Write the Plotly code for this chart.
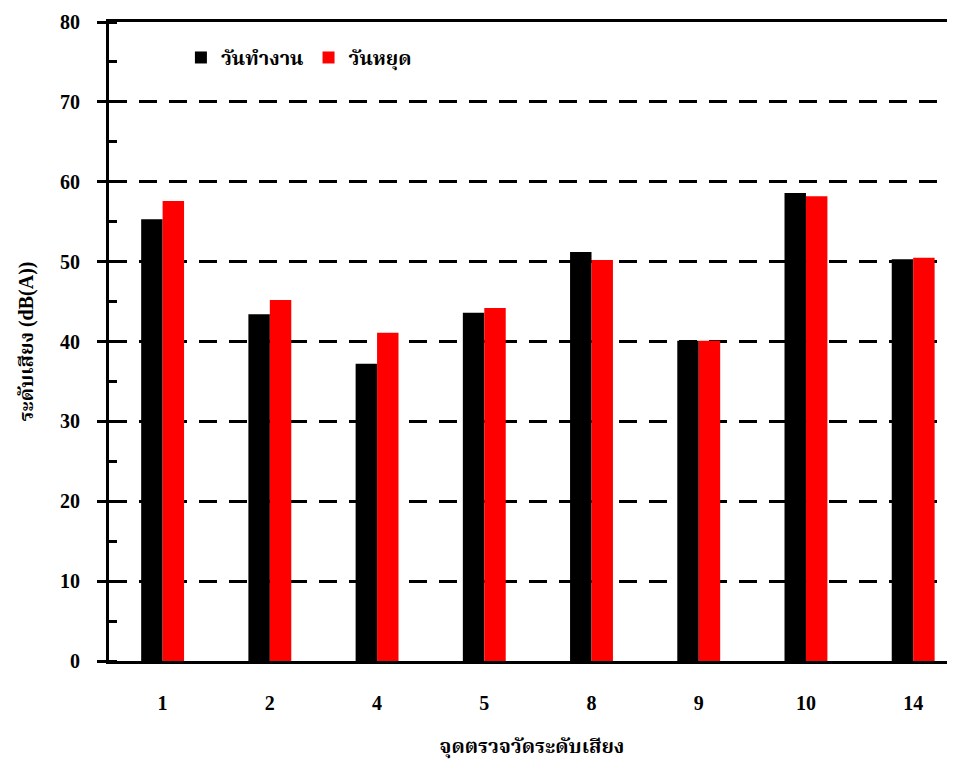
import plotly.graph_objects as go

categories = ["1", "2", "4", "5", "8", "9", "10", "14"]
weekday = [55.3, 43.4, 37.2, 43.6, 51.2, 40.1, 58.6, 50.3]
holiday = [57.6, 45.2, 41.1, 44.2, 50.2, 40.1, 58.2, 50.5]
y_ticks = [0, 10, 20, 30, 40, 50, 60, 70, 80]

FONT = "Liberation Serif, Times New Roman, Noto Serif Thai, Noto Sans Thai, serif"

fig = go.Figure()
fig.add_trace(go.Bar(x=categories, y=weekday, name="วันทำงาน",
                     marker=dict(color="#000000", line=dict(width=0))))
fig.add_trace(go.Bar(x=categories, y=holiday, name="วันหยุด",
                     marker=dict(color="#ff0000", line=dict(width=0))))

fig.update_layout(
    width=947, height=752,
    margin=dict(l=101, r=0, t=14, b=99),
    paper_bgcolor="white", plot_bgcolor="white",
    barmode="group", bargap=0.6, bargroupgap=0,
    font=dict(family=FONT, size=20, color="black"),
    showlegend=True,
    legend=dict(orientation="h", x=0.085, y=0.975, xanchor="left", yanchor="top",
                bgcolor="rgba(0,0,0,0)", font=dict(size=20, family=FONT, weight="bold"),
                itemwidth=30),
)
fig.update_xaxes(
    type="category", range=[-0.5, 7.39], automargin=False,
    showline=True, linecolor="black", linewidth=3, mirror=True,
    showgrid=False, ticks="", ticklabelstandoff=22,
    tickfont=dict(family=FONT, size=20, weight="bold"),
    title=dict(text="จุดตรวจวัดระดับเสียง", standoff=26,
               font=dict(family=FONT, size=20, weight="bold")),
)
fig.update_yaxes(
    range=[0, 80], tickvals=y_ticks, automargin=False,
    showline=True, linecolor="black", linewidth=3,
    ticks="outside", ticklen=9, tickwidth=3, tickcolor="black",
    ticklabelstandoff=13,
    tickfont=dict(family=FONT, size=20, weight="bold"),
    showgrid=True, gridcolor="black", gridwidth=3, griddash="18px,12px",
    zeroline=False,
    minor=dict(dtick=5, tick0=5, ticks="inside", ticklen=8, tickwidth=3,
               tickcolor="black", showgrid=False),
    title=dict(text="ระดับเสียง (dB(A))", standoff=22,
               font=dict(family=FONT, size=20, weight="bold")),
)

fig.write_html("out.html")
